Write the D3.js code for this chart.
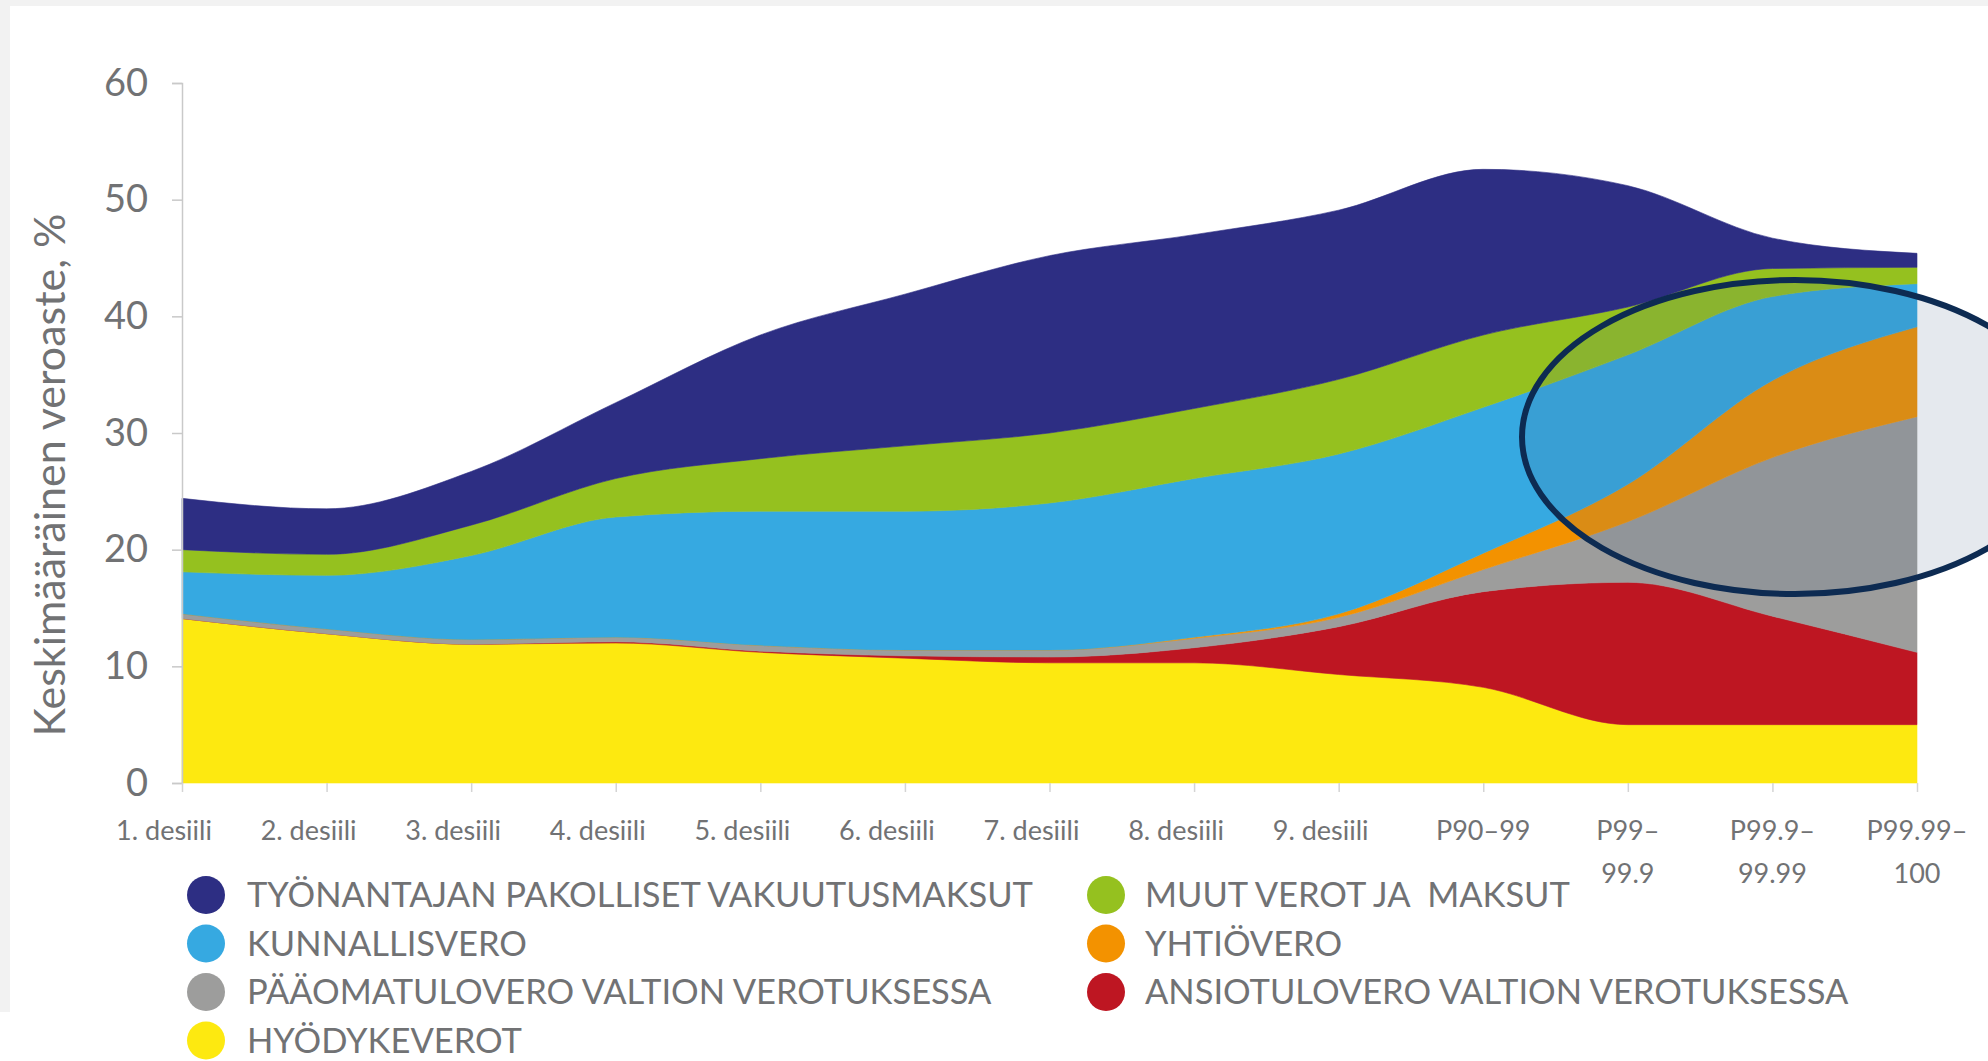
<!DOCTYPE html>
<html lang="fi">
<head>
<meta charset="utf-8">
<script src="https://cdn.jsdelivr.net/npm/d3@7"></script>
<style>
  html, body { margin: 0; padding: 0; background: #ffffff; }
  svg { display: block; }
  text { font-family: Lato, "Open Sans", sans-serif; fill: #717274; }
  .legend text { white-space: pre; }
</style>
</head>
<body>
<svg id="chart" width="1988" height="1061"></svg>
<script>
// Income groups along the x axis
const categories = [
  "1. desiili", "2. desiili", "3. desiili", "4. desiili", "5. desiili",
  "6. desiili", "7. desiili", "8. desiili", "9. desiili",
  "P90–99", "P99–99.9", "P99.9–99.99", "P99.99–100"
];
// Tick labels, split onto lines as printed
const tickLines = [
  ["1. desiili"], ["2. desiili"], ["3. desiili"], ["4. desiili"], ["5. desiili"],
  ["6. desiili"], ["7. desiili"], ["8. desiili"], ["9. desiili"],
  ["P90–99"], ["P99–", "99.9"], ["P99.9–", "99.99"], ["P99.99–", "100"]
];
const yTicks = [0, 10, 20, 30, 40, 50, 60];

// Average tax rate components, % of income (bottom to top of the stack)
const hyodykeverot   = [14.1, 12.8, 11.9, 12.0, 11.2, 10.7, 10.3, 10.3, 9.3, 8.2, 5.0, 5.0, 5.0];
const ansiotulovero  = [0.0, 0.0, 0.0, 0.1, 0.1, 0.2, 0.5, 1.3, 4.1, 8.2, 12.2, 9.3, 6.2];
const paaomatulovero = [0.4, 0.4, 0.4, 0.4, 0.5, 0.5, 0.6, 0.8, 0.8, 1.9, 5.2, 13.6, 20.2];
const yhtiovero      = [0.0, 0.0, 0.0, 0.0, 0.0, 0.0, 0.0, 0.1, 0.3, 1.4, 3.2, 6.6, 7.7];
const kunnallisvero  = [3.6, 4.6, 7.2, 10.3, 11.5, 11.9, 12.6, 13.6, 13.7, 12.5, 11.1, 7.2, 3.7];
const muutVerot      = [1.9, 1.8, 2.6, 3.3, 4.5, 5.6, 6.0, 6.0, 6.4, 6.2, 4.1, 2.4, 1.4];
const tyonantaja     = [4.4, 3.9, 4.6, 6.5, 10.6, 13.0, 15.2, 14.9, 14.5, 14.2, 10.4, 2.6, 1.2];

const seriesKeys = ["hyodyke", "ansio", "paaoma", "yhtio", "kunnallis", "muut", "tyonantaja"];
const seriesValues = {
  hyodyke: hyodykeverot, ansio: ansiotulovero, paaoma: paaomatulovero, yhtio: yhtiovero,
  kunnallis: kunnallisvero, muut: muutVerot, tyonantaja: tyonantaja
};
const seriesColors = {
  hyodyke: "#fde910", ansio: "#be1622", paaoma: "#9d9d9c", yhtio: "#f39200",
  kunnallis: "#36a9e1", muut: "#95c11f", tyonantaja: "#2d2e83"
};
const legendLabels = {
  tyonantaja: "TYÖNANTAJAN PAKOLLISET VAKUUTUSMAKSUT",
  kunnallis: "KUNNALLISVERO",
  paaoma: "PÄÄOMATULOVERO VALTION VEROTUKSESSA",
  hyodyke: "HYÖDYKEVEROT",
  muut: "MUUT VEROT JA  MAKSUT",
  yhtio: "YHTIÖVERO",
  ansio: "ANSIOTULOVERO VALTION VEROTUKSESSA"
};
const legendColumns = [
  ["tyonantaja", "kunnallis", "paaoma", "hyodyke"],
  ["muut", "yhtio", "ansio"]
];

const svg = d3.select("#chart");

// Page frame: light grey margins at top and left
svg.append("rect").attr("x", 0).attr("y", 0).attr("width", 1988).attr("height", 6).attr("fill", "#f2f2f2");
svg.append("rect").attr("x", 0).attr("y", 0).attr("width", 10).attr("height", 1012).attr("fill", "#f2f2f2");

const x = d3.scalePoint().domain(categories).range([182, 1917]);
const y = d3.scaleLinear().domain([0, 60]).range([783, 83]);

const table = categories.map((c, i) => {
  const row = { cat: c };
  seriesKeys.forEach(k => { row[k] = seriesValues[k][i]; });
  return row;
});
const stacked = d3.stack().keys(seriesKeys)(table);

const area = d3.area()
  .x(d => x(d.data.cat))
  .y0(d => y(d[0]))
  .y1(d => y(d[1]))
  .curve(d3.curveMonotoneX);

svg.append("g").attr("class", "layers")
  .selectAll("path")
  .data(stacked)
  .join("path")
  .attr("d", area)
  .attr("fill", d => seriesColors[d.key])
  .attr("stroke", d => seriesColors[d.key])
  .attr("stroke-width", 0.6);

// Y axis
const yAxis = d3.axisLeft(y).tickValues(yTicks).tickSize(10).tickPadding(24);
const gy = svg.append("g").attr("transform", "translate(182,0)").call(yAxis);
gy.select(".domain").attr("stroke", "#c9c9c9").attr("stroke-width", 1.5);
gy.selectAll(".tick line").attr("stroke", "#c9c9c9").attr("stroke-width", 1.5);
gy.selectAll(".tick text")
  .attr("font-size", 38).attr("font-family", "Lato, sans-serif").attr("fill", "#717274");

// X axis: tick marks below the baseline, labels underneath
const xAxis = d3.axisBottom(x).tickSize(9).tickFormat("");
const gx = svg.append("g").attr("transform", "translate(0,783)").call(xAxis);
gx.select(".domain").remove();
gx.selectAll(".tick line").attr("stroke", "#d4d4d4").attr("stroke-width", 1.5);

const labelG = svg.append("g").attr("class", "xlabels");
categories.forEach((c, i) => {
  const lines = tickLines[i];
  const isDecile = lines.length === 1 && c.indexOf("desiili") >= 0;
  const t = labelG.append("text")
    .attr("x", x(c) + (isDecile ? -18 : 0))
    .attr("y", 840)
    .attr("text-anchor", "middle")
    .attr("font-size", 27);
  lines.forEach((ln, j) => {
    t.append("tspan")
      .attr("x", x(c) + (isDecile ? -18 : 0))
      .attr("dy", j === 0 ? 0 : 43)
      .text(ln);
  });
});

// Y axis title
svg.append("text")
  .attr("transform", "translate(65,475) rotate(-90)")
  .attr("text-anchor", "middle")
  .attr("font-size", 43)
  .text("Keskimääräinen veroaste, %");

// Legend
const legend = svg.append("g").attr("class", "legend");
const colX = [[206, 247], [1106, 1145]];
legendColumns.forEach((col, ci) => {
  col.forEach((key, ri) => {
    const cy = 895 + ri * 48.5;
    legend.append("circle")
      .attr("cx", colX[ci][0]).attr("cy", cy).attr("r", 19)
      .attr("fill", seriesColors[key]);
    legend.append("text")
      .attr("x", colX[ci][1]).attr("y", cy + 12)
      .attr("font-size", 34.5)
      .text(legendLabels[key]);
  });
});

// Highlight ring around the top income groups
svg.append("ellipse")
  .attr("cx", 1795).attr("cy", 437)
  .attr("rx", 273).attr("ry", 157)
  .attr("fill", "rgba(80,110,140,0.15)")
  .attr("stroke", "#0d2b52")
  .attr("stroke-width", 6);
</script>
</body>
</html>
